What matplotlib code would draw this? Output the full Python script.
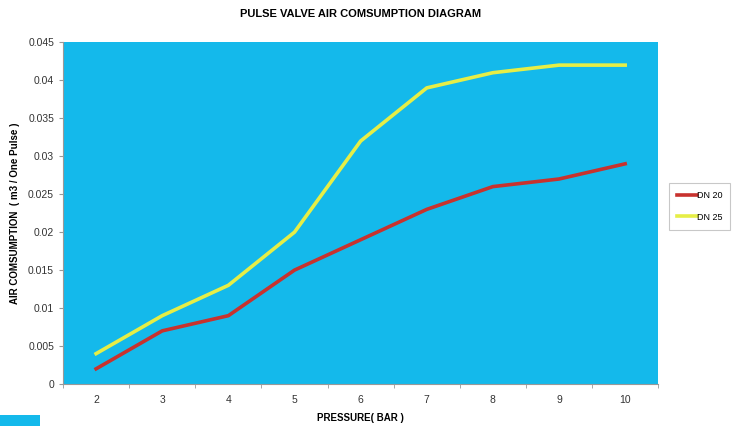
import matplotlib
matplotlib.use("Agg")
import matplotlib.pyplot as plt
from matplotlib.patches import Rectangle

pressure = [2, 3, 4, 5, 6, 7, 8, 9, 10]
dn20 = [0.002, 0.007, 0.009, 0.015, 0.019, 0.023, 0.026, 0.027, 0.029]
dn25 = [0.004, 0.009, 0.013, 0.020, 0.032, 0.039, 0.041, 0.042, 0.042]
y_ticks = [0, 0.005, 0.01, 0.015, 0.02, 0.025, 0.03, 0.035, 0.04, 0.045]
y_labels = ["0", "0.005", "0.01", "0.015", "0.02", "0.025", "0.03", "0.035", "0.04", "0.045"]

plt.rcParams['font.family'] = ['Liberation Sans', 'DejaVu Sans']

fig = plt.figure(figsize=(7.33, 4.26), dpi=100)
ax = fig.add_axes([0.086, 0.0986, 0.812, 0.802])
ax.set_facecolor('#14B9EB')

ax.plot(pressure, dn20, color='#C8322E', lw=2.6, label='DN 20')
ax.plot(pressure, dn25, color='#E6EE46', lw=2.6, label='DN 25')

ax.set_xlim(1.5, 10.5)
ax.set_ylim(0, 0.045)
ax.set_yticks(y_ticks)
ax.set_yticklabels(y_labels)
ax.set_xticks(pressure)
ax.set_xticklabels([str(p) for p in pressure])
ax.set_xticks([p + 0.5 for p in [1] + pressure], minor=True)
ax.tick_params(axis='x', which='major', length=0, pad=8, labelsize=7.5, colors='#333333')
ax.tick_params(axis='x', which='minor', length=3, color='#999999', direction='out')
ax.tick_params(axis='y', length=3, color='#999999', labelsize=7.5, colors='#333333')
for s in ['top', 'right']:
    ax.spines[s].set_visible(False)
for s in ['left', 'bottom']:
    ax.spines[s].set_color('#999999')
    ax.spines[s].set_linewidth(0.8)

ax.set_title('PULSE VALVE AIR COMSUMPTION DIAGRAM', fontsize=8, fontweight='bold', pad=18)
ax.set_xlabel('PRESSURE( BAR )', fontsize=7, fontweight='bold', labelpad=6)
ax.set_ylabel('AIR COMSUMPTION  ( m3 / One Pulse )', fontsize=7, fontweight='bold', labelpad=6)

leg = ax.legend(loc='center left', bbox_to_anchor=(1.01, 0.52), fontsize=6.5, frameon=True,
                fancybox=False, edgecolor='#BBBBBB', handlelength=2.2, handletextpad=0.0,
                borderpad=0.9, labelspacing=1.4)
leg.get_frame().set_linewidth(0.8)

fig.patches.append(Rectangle((0, 0), 40 / 733, 11 / 426, transform=fig.transFigure,
                             facecolor='#14B9EB', edgecolor='none'))

fig.savefig('out.png', dpi=100)
